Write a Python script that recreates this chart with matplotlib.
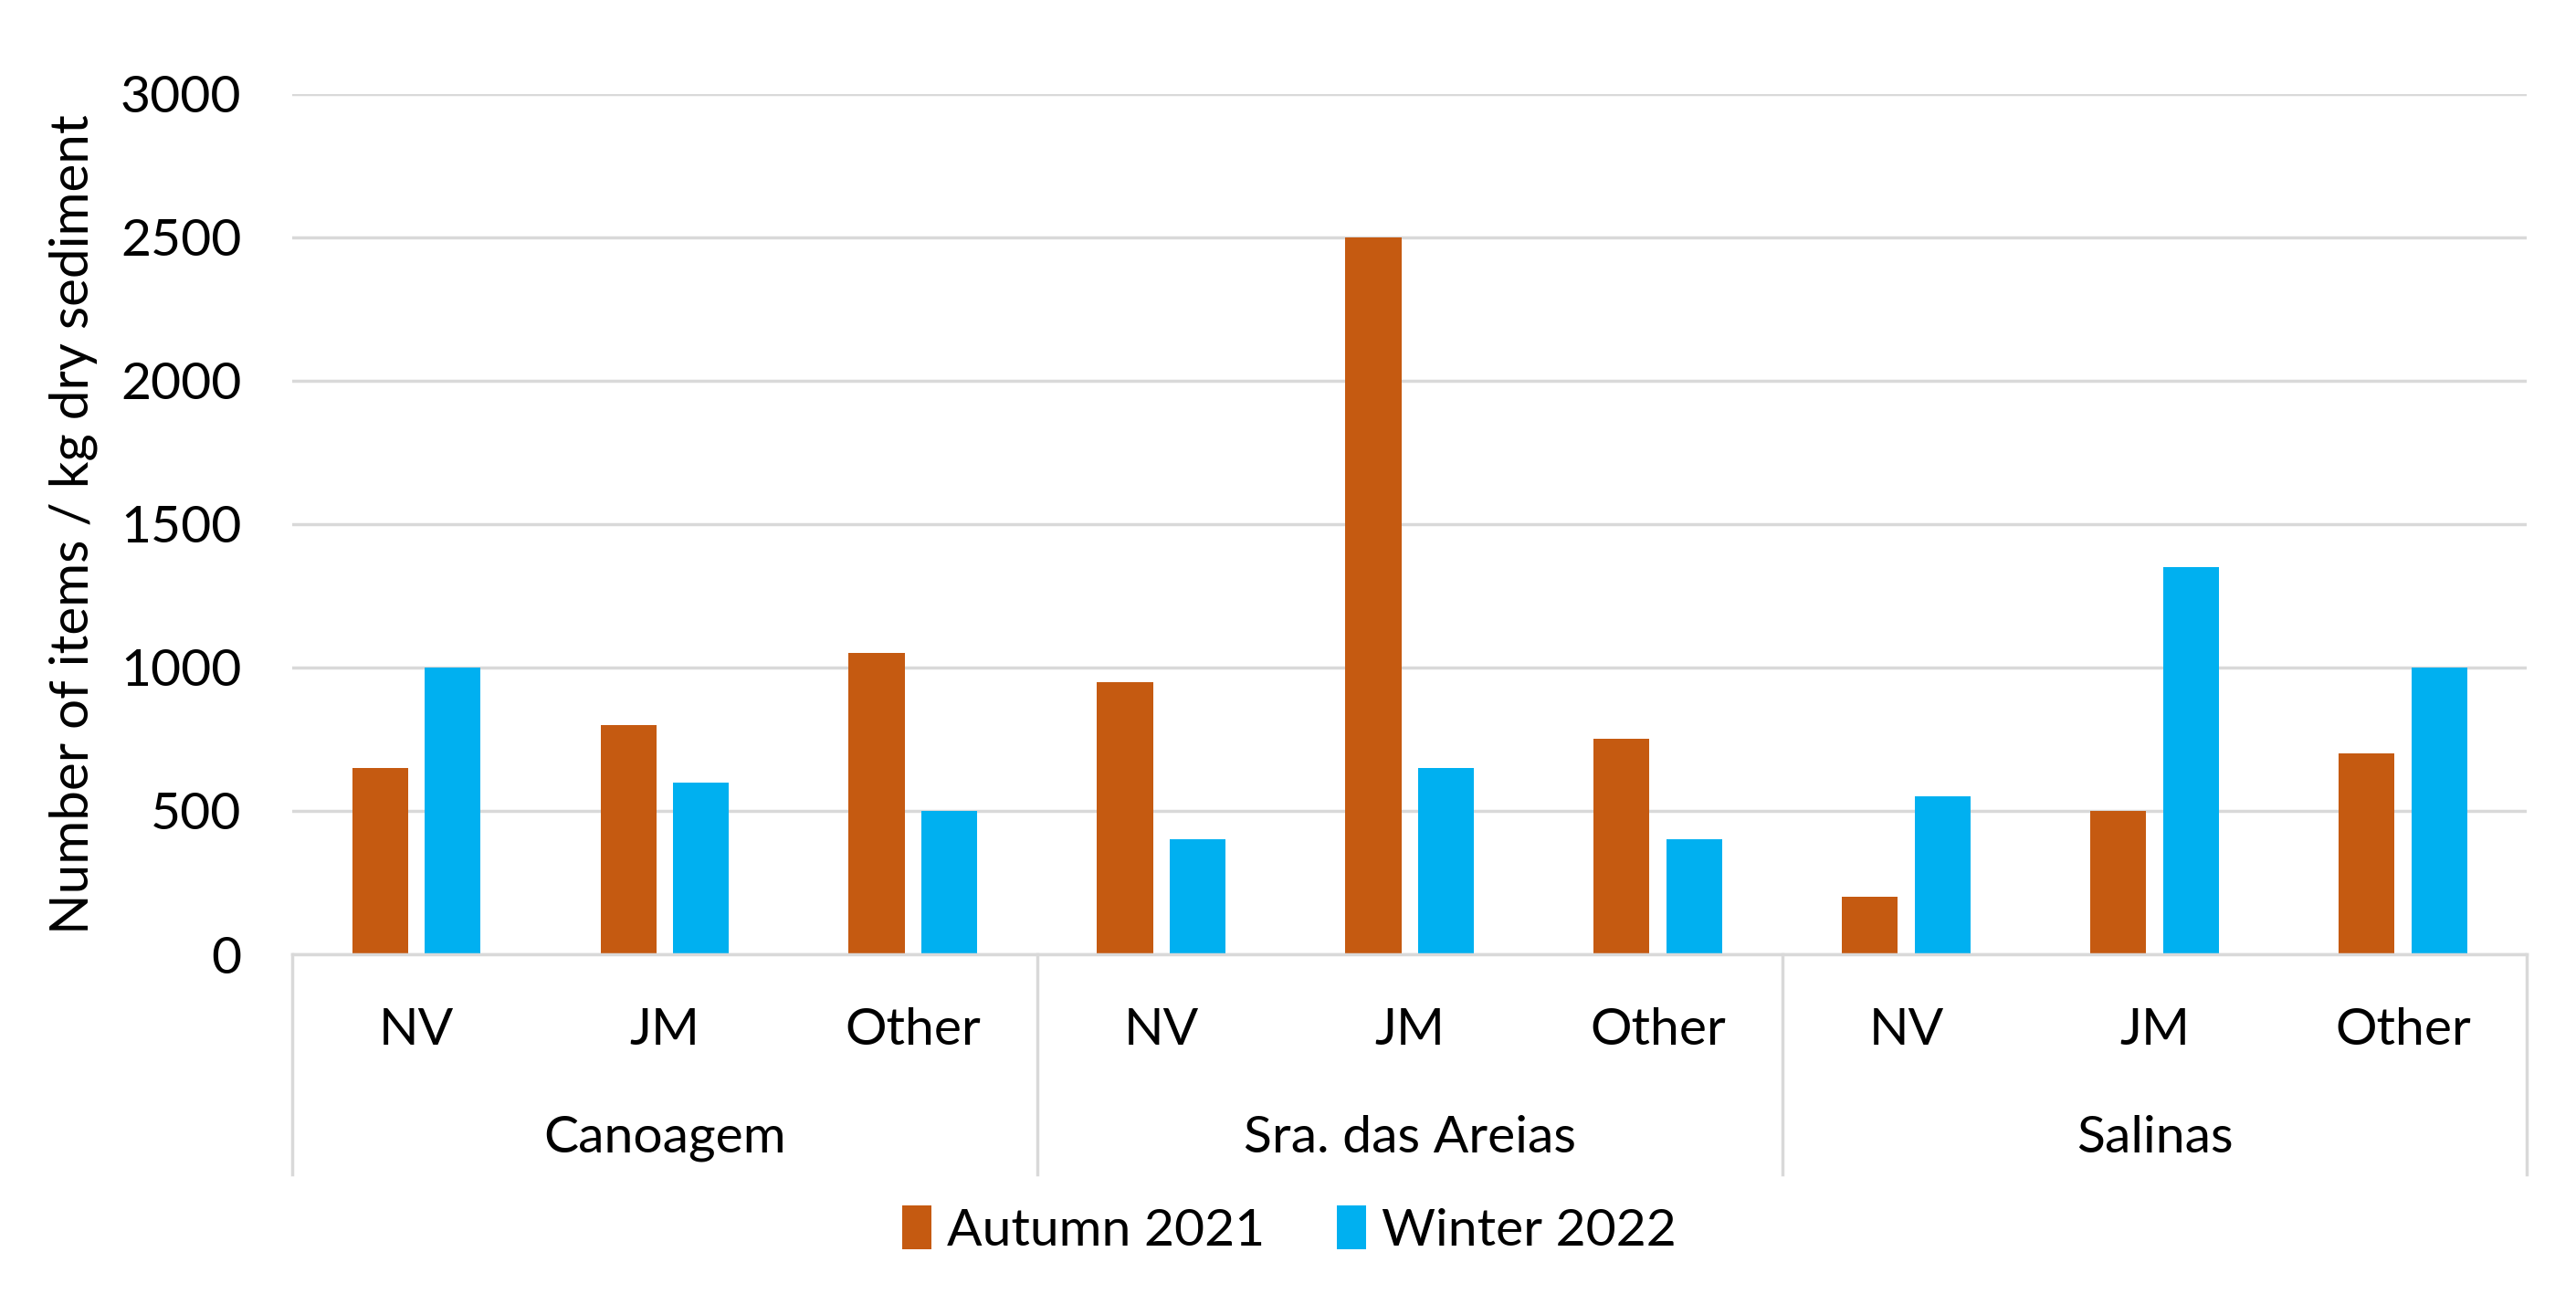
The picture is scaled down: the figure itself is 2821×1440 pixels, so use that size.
import numpy as np
import matplotlib
matplotlib.use("Agg")
import matplotlib.pyplot as plt
import matplotlib.transforms as mtransforms

# ── Data ───────────────────────────────────────────────────────────────────────
sites = ["Canoagem", "Sra. das Areias", "Salinas"]
categories = ["NV", "JM", "Other"]
autumn_2021 = [650, 800, 1050, 950, 2500, 750, 200, 500, 700]
winter_2022 = [1000, 600, 500, 400, 650, 400, 550, 1350, 1000]
series_names = ["Autumn 2021", "Winter 2022"]
y_ticks = [0, 500, 1000, 1500, 2000, 2500, 3000]

# ── Style ──────────────────────────────────────────────────────────────────────
plt.rcParams["font.family"] = ["Lato", "DejaVu Sans"]
ORANGE = "#C55A11"
BLUE = "#00B0F0"
GRID = "#D9D9D9"
FS = 41

fig = plt.figure(figsize=(28.21, 14.40), dpi=100)
ax = fig.add_axes([0.1134, 0.2743, 0.8676, 0.6542])

x = np.arange(len(autumn_2021))
width = 0.225
offset = 0.146
ax.bar(x - offset, autumn_2021, width, color=ORANGE, label=series_names[0], zorder=3)
ax.bar(x + offset, winter_2022, width, color=BLUE, label=series_names[1], zorder=3)

ax.set_xlim(-0.5, len(x) - 0.5)
ax.set_ylim(0, 3000)
ax.set_yticks(y_ticks)
ax.tick_params(axis="y", length=0, pad=40, labelsize=FS)
ax.yaxis.grid(True, color=GRID, linewidth=2.5, zorder=0)
ax.set_axisbelow(True)
for s in ax.spines.values():
    s.set_visible(False)

# category labels
ax.set_xticks(x)
ax.set_xticklabels(categories * len(sites), fontsize=FS)
ax.tick_params(axis="x", length=0, pad=42)

ax.set_ylabel("Number of items / kg dry sediment", fontsize=FS + 1, labelpad=18)

# bottom axis line and group separators
trans = mtransforms.blended_transform_factory(ax.transData, ax.transAxes)
ax.plot([-0.5, len(x) - 0.5], [0, 0], color=GRID, linewidth=2.5, transform=trans, clip_on=False, zorder=4)
for b in np.arange(-0.5, len(x), 3):
    ax.plot([b, b], [0, -0.256], color=GRID, linewidth=2.5, transform=trans, clip_on=False)

# site labels
for i, site in enumerate(sites):
    ax.text(i * 3 + 1, -0.214, site, transform=trans, ha="center", va="center", fontsize=FS)

fig.legend(loc="center", bbox_to_anchor=(0.5005, 0.0646), ncol=2, frameon=False,
           fontsize=FS, handlelength=0.55, handleheight=0.9, handletextpad=0.3,
           columnspacing=1.4)

fig.savefig("out.png", dpi=100, facecolor="white")
